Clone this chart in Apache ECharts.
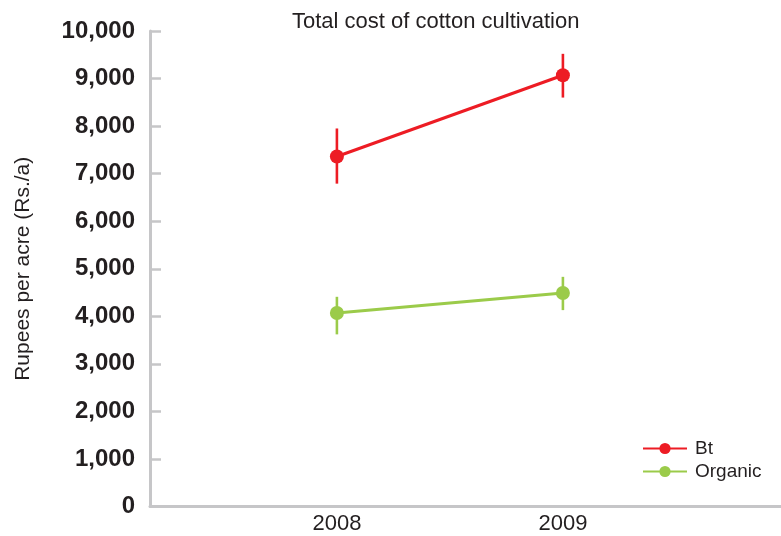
<!DOCTYPE html>
<html>
<head>
<meta charset="utf-8">
<style>
  html, body { margin: 0; padding: 0; background: #ffffff; }
  #chart { width: 781px; height: 536px; }
</style>
<script src="https://cdn.jsdelivr.net/npm/echarts@6/dist/echarts.min.js"></script>
</head>
<body>
<div id="chart"></div>
<script>
// Survey years
const years = [2008, 2009];
// Total cultivation cost, rupees per acre
const btCost = [7360, 9070];
const btLow = [6790, 8600];
const btHigh = [7950, 9520];
const organicCost = [4070, 4490];
const organicLow = [3620, 4130];
const organicHigh = [4410, 4830];
// Value-axis tick labels
const yTicks = [0, 1000, 2000, 3000, 4000, 5000, 6000, 7000, 8000, 9000, 10000];

const RED = '#ED1C24';
const GREEN = '#9BCB4A';
const AXIS = '#C6C6C8';
const TEXT = '#231F20';
const FONT = '"Liberation Sans", Arial, Helvetica, sans-serif';

const pairs = (vals) => years.map((y, i) => [y, vals[i]]);
const bars = (lo, hi) => years.map((y, i) => [y, lo[i], hi[i]]);

function errorBar(color) {
  return function (params, api) {
    const top = api.coord([api.value(0), api.value(2)]);
    const bot = api.coord([api.value(0), api.value(1)]);
    return {
      type: 'line',
      shape: { x1: top[0], y1: top[1], x2: bot[0], y2: bot[1] },
      style: { stroke: color, lineWidth: 2.6 }
    };
  };
}

const chart = echarts.init(document.getElementById('chart'), null, { renderer: 'canvas' });
chart.setOption({
  backgroundColor: '#ffffff',
  animation: false,
  title: {
    text: 'Total cost of cotton cultivation',
    left: 287,
    top: 6,
    textStyle: { fontFamily: FONT, fontSize: 22, fontWeight: 'normal', color: TEXT }
  },
  legend: {
    orient: 'vertical',
    left: 637,
    top: 434,
    itemWidth: 44,
    itemHeight: 14,
    itemGap: 4,
    data: ['Bt', 'Organic'],
    textStyle: { fontFamily: FONT, fontSize: 19, color: TEXT, padding: [0, 0, 0, 3] }
  },
  grid: { left: 150, right: 0, top: 31, bottom: 29.5, containLabel: false },
  xAxis: {
    type: 'value',
    min: 2007.173,
    max: 2009.965,
    splitLine: { show: false },
    axisLine: { show: true, lineStyle: { color: AXIS, width: 3 } },
    axisTick: { show: false },
    axisLabel: {
      customValues: years,
      margin: 6,
      fontFamily: FONT, fontSize: 22, color: TEXT,
      formatter: (v) => String(v)
    }
  },
  yAxis: {
    type: 'value',
    min: yTicks[0],
    max: yTicks[yTicks.length - 1],
    interval: 1000,
    name: 'Rupees per acre (Rs./a)',
    nameLocation: 'middle',
    nameRotate: 90,
    nameGap: 116,
    nameTextStyle: { fontFamily: FONT, fontSize: 21, color: TEXT },
    splitLine: { show: false },
    axisLine: { show: true, lineStyle: { color: AXIS, width: 3 } },
    axisTick: { show: true, inside: true, length: 11, lineStyle: { color: AXIS, width: 2.5 } },
    axisLabel: {
      margin: 15,
      fontFamily: FONT, fontSize: 24, fontWeight: 'bold', color: TEXT,
      formatter: (v) => v.toLocaleString('en-US')
    }
  },
  series: [
    {
      name: 'Bt',
      type: 'line',
      data: pairs(btCost),
      symbol: 'circle',
      symbolSize: 14,
      itemStyle: { color: RED },
      lineStyle: { color: RED, width: 3 },
      z: 3
    },
    {
      name: 'Organic',
      type: 'line',
      data: pairs(organicCost),
      symbol: 'circle',
      symbolSize: 14,
      itemStyle: { color: GREEN },
      lineStyle: { color: GREEN, width: 3 },
      z: 3
    },
    {
      name: 'Bt range',
      type: 'custom',
      renderItem: errorBar(RED),
      data: bars(btLow, btHigh),
      encode: { x: 0, y: [1, 2] },
      z: 2
    },
    {
      name: 'Organic range',
      type: 'custom',
      renderItem: errorBar(GREEN),
      data: bars(organicLow, organicHigh),
      encode: { x: 0, y: [1, 2] },
      z: 2
    }
  ]
});
</script>
</body>
</html>
